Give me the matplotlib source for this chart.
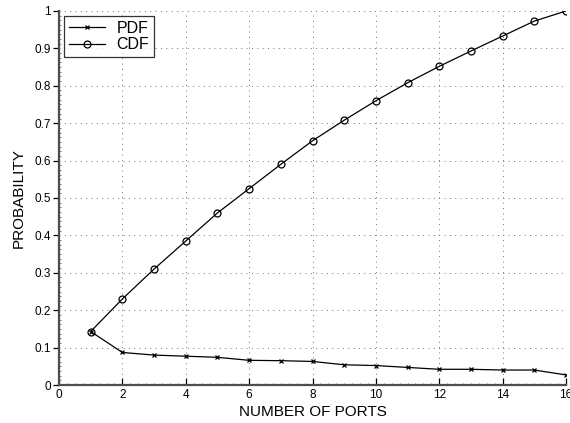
import matplotlib
matplotlib.use("Agg")
import matplotlib.pyplot as plt
from matplotlib.ticker import MultipleLocator

plt.rcParams['font.family'] = ['Liberation Sans', 'DejaVu Sans']

ports = list(range(1, 17))
pdf = [0.143, 0.087, 0.080, 0.077, 0.074, 0.066, 0.065, 0.063,
       0.054, 0.052, 0.047, 0.042, 0.042, 0.040, 0.040, 0.027]
cdf = [0.143, 0.230, 0.310, 0.385, 0.460, 0.525, 0.590, 0.653,
       0.708, 0.760, 0.808, 0.852, 0.893, 0.933, 0.973, 1.000]
x_ticks = [0, 2, 4, 6, 8, 10, 12, 14, 16]
y_ticks = [0, 0.1, 0.2, 0.3, 0.4, 0.5, 0.6, 0.7, 0.8, 0.9, 1]
y_tick_labels = ['0', '0.1', '0.2', '0.3', '0.4', '0.5', '0.6', '0.7', '0.8', '0.9', '1']

fig = plt.figure(figsize=(5.70, 4.23), dpi=100)
ax = fig.add_axes([59 / 570, 38 / 423, 507 / 570, 374 / 423])

ax.plot(ports, pdf, color='black', lw=0.9, marker='x', ms=3.5, mew=0.9,
        label='PDF')
ax.plot(ports, cdf, color='black', lw=0.9, marker='o', ms=5, mew=0.9,
        mfc='none', label='CDF')

ax.set_xlim(0, 16)
ax.set_ylim(0, 1)
ax.set_xticks(x_ticks)
ax.set_xticklabels([str(t) for t in x_ticks])
ax.set_yticks(y_ticks)
ax.set_yticklabels(y_tick_labels)

ax.grid(True, linestyle=(0, (1, 4.5)), color='0.45', lw=0.7)
ax.set_axisbelow(True)

for side in ('top', 'right'):
    ax.spines[side].set_visible(False)
for side in ('left', 'bottom'):
    ax.spines[side].set_linewidth(1.6)
    ax.spines[side].set_color('0.3')

ax.tick_params(axis='x', direction='in', length=5, width=0.9,
               labelsize=8.5, pad=3, colors='black')
ax.tick_params(axis='y', direction='out', length=4, width=0.9,
               labelsize=8.5, pad=2, colors='black')
ax.xaxis.set_minor_locator(MultipleLocator(0.25))
ax.yaxis.set_minor_locator(MultipleLocator(0.0125))
ax.tick_params(which='minor', length=1.5, width=0.6, color='0.4',
               direction='in')

ax.set_xlabel('NUMBER OF PORTS', fontsize=11, labelpad=3)
ax.set_ylabel('PROBABILITY', fontsize=11, labelpad=6)

leg = ax.legend(loc='upper left', fontsize=11.5, frameon=True, fancybox=False,
                edgecolor='black', borderpad=0.3, handlelength=2.3,
                handletextpad=0.7, labelspacing=0.1, borderaxespad=0.3,
                bbox_to_anchor=(0.0, 1.0))
leg.get_frame().set_linewidth(0.9)

fig.savefig('out.png', dpi=100)
